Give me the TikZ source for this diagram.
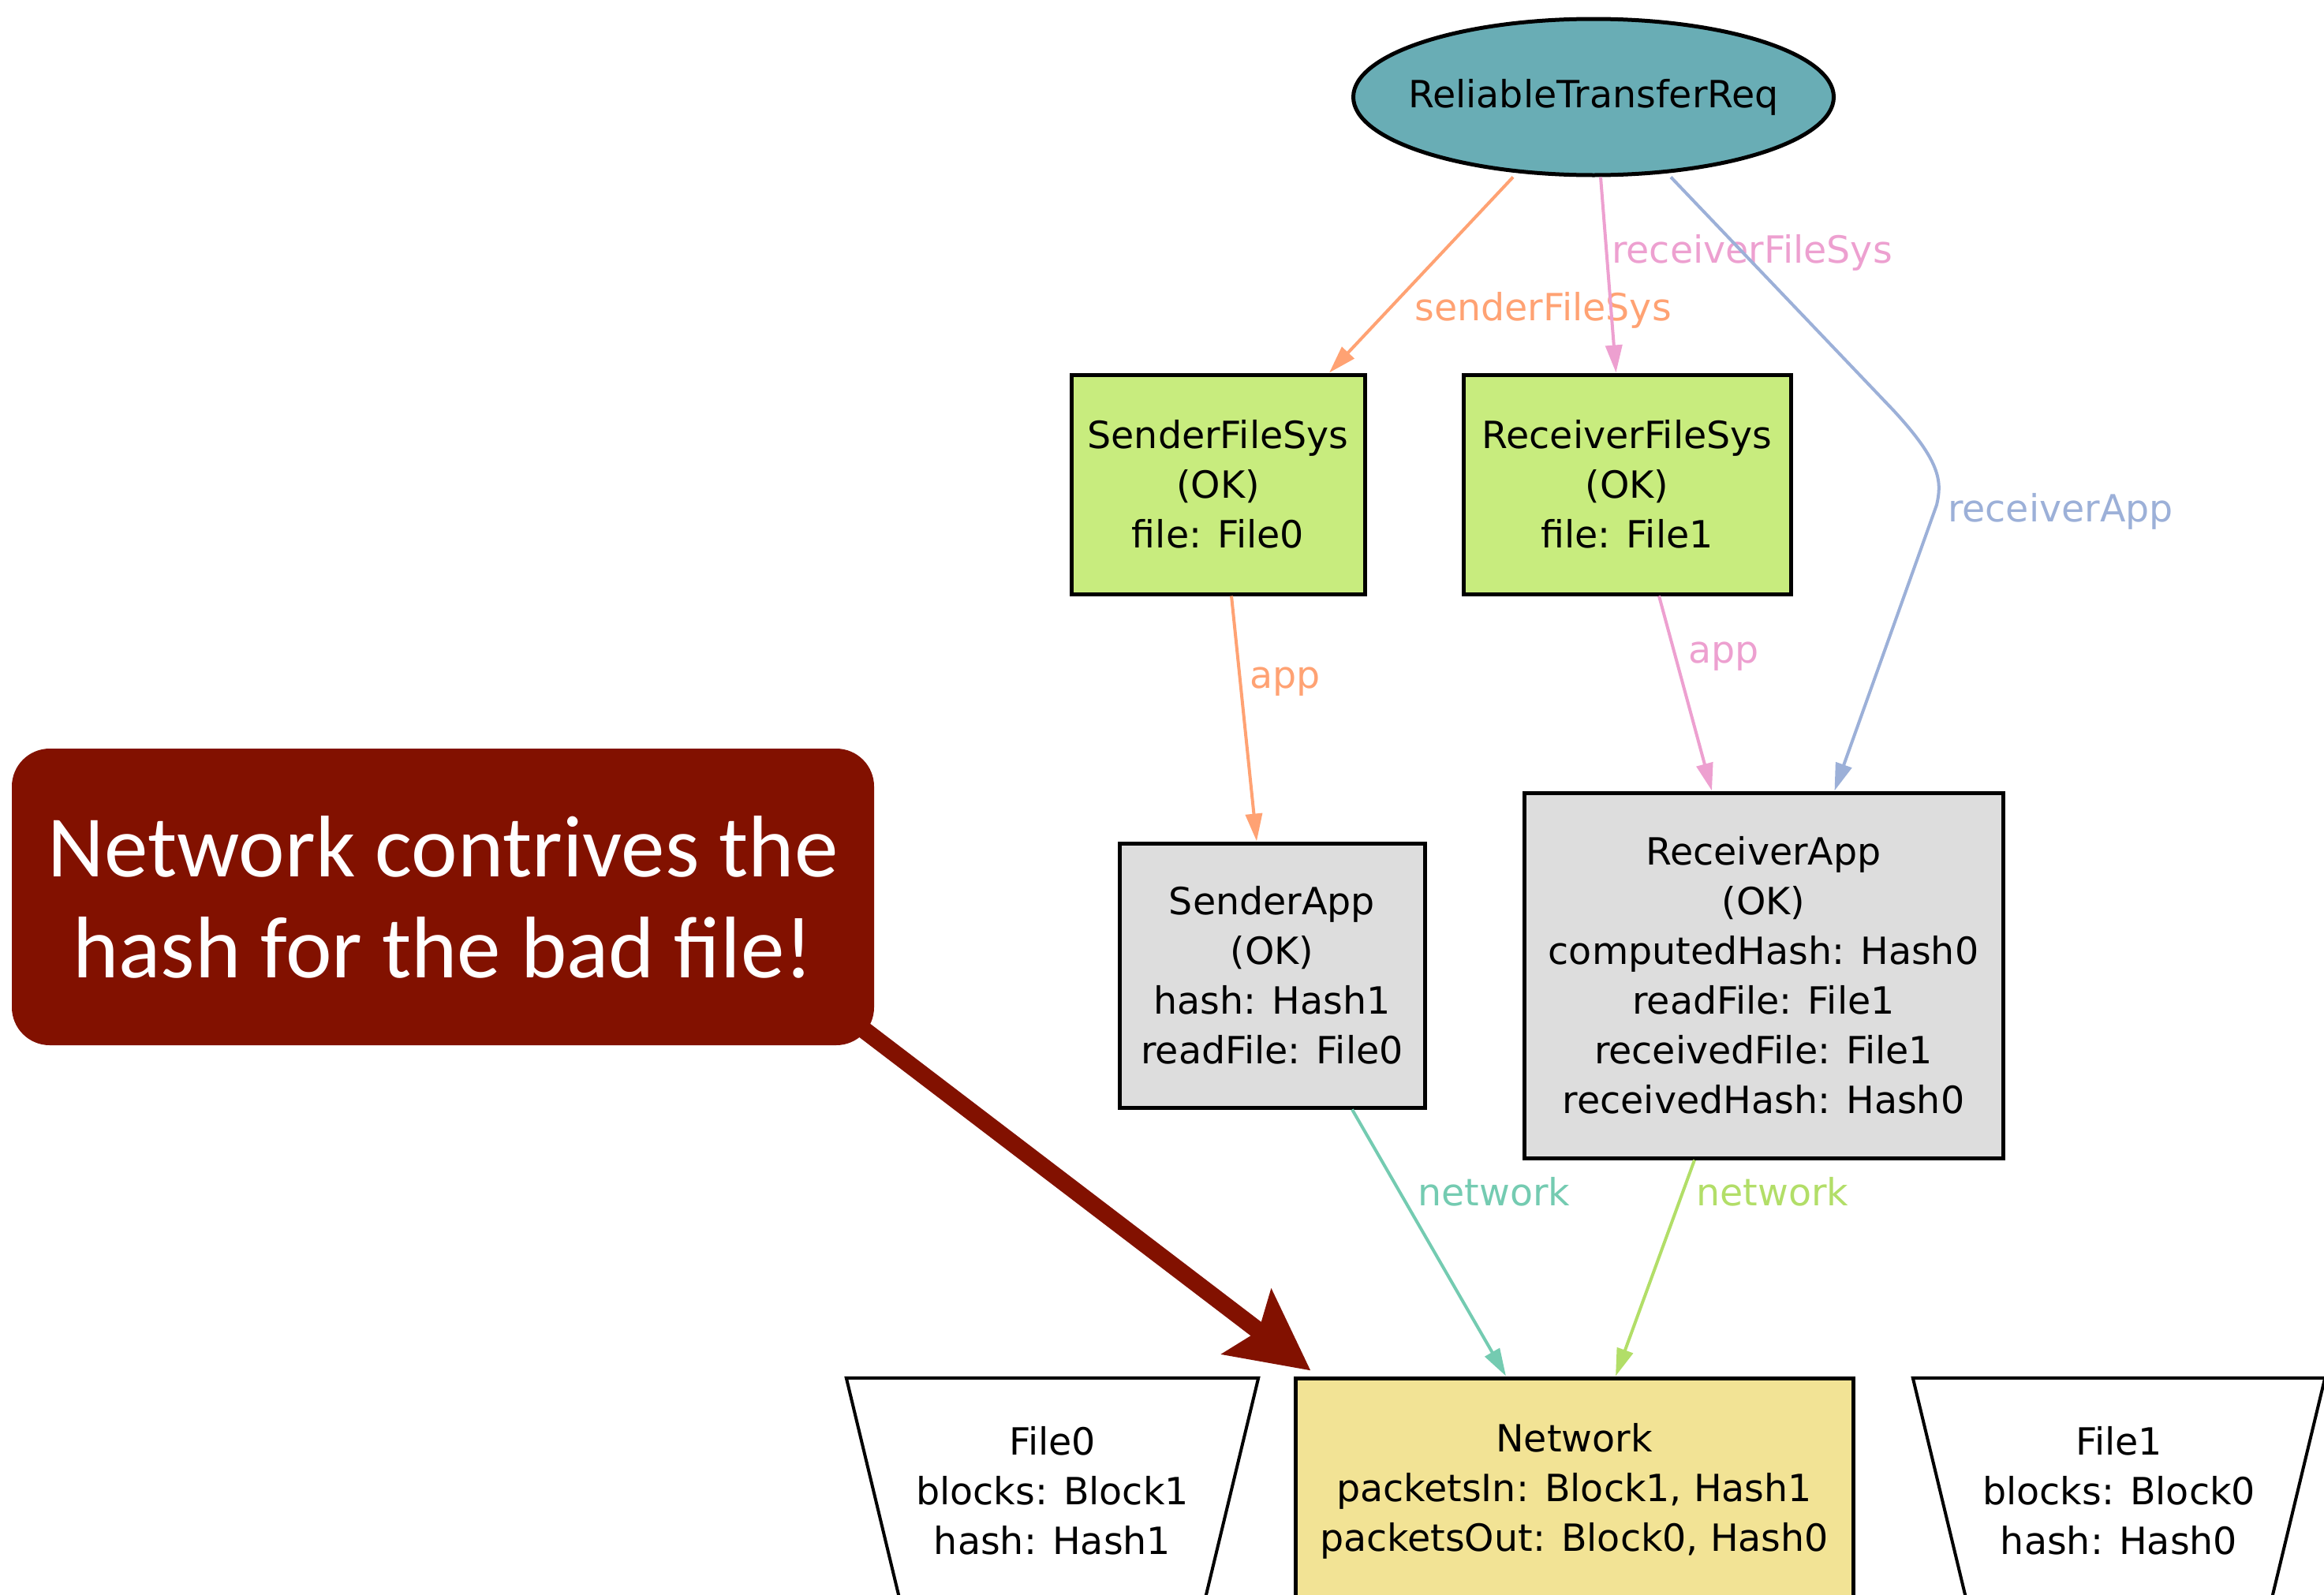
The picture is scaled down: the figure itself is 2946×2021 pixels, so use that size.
\documentclass[tikz,border=0pt]{standalone}
\usepackage{fontspec}
\usetikzlibrary{arrows.meta,shapes.geometric,calc}
\newfontfamily\graphfont{DejaVu Sans}
\newfontfamily\notefont{Carlito}

\definecolor{reqfill}{HTML}{69ADB5}
\definecolor{fsfill}{HTML}{C8EC7E}
\definecolor{appfill}{HTML}{DDDDDD}
\definecolor{netfill}{HTML}{F2E395}
\definecolor{notered}{HTML}{821100}
\definecolor{orangeE}{HTML}{FFA273}
\definecolor{pinkE}{HTML}{EDA0D0}
\definecolor{blueE}{HTML}{9CB0D8}
\definecolor{tealE}{HTML}{74CBB1}
\definecolor{limeE}{HTML}{B2DE68}

\begin{document}
\begin{tikzpicture}[x=1pt,y=-1pt,
  every node/.style={font=\graphfont\fontsize{47.5pt}{63pt}\selectfont},
  box/.style={draw=black,line width=5pt,align=center,inner sep=0pt},
  filebox/.style={align=center,inner sep=0pt,minimum width=522pt,minimum height=286pt},
  fileedge/.style={draw=black,line width=4pt,line join=miter},
  edge/.style={line width=4pt,-{Triangle[length=35pt,width=21pt]}},
  lbl/.style={inner sep=0pt},
  notebox/.style={fill=notered,rounded corners=48pt,minimum width=1093pt,
    minimum height=376pt,align=center,text=white,inner sep=0pt,
    font=\notefont\fontsize{111pt}{128pt}\selectfont},
  pointer/.style={line width=22pt,notered,
    -{Stealth[length=101pt,width=101pt,inset=18pt]}},
]
\useasboundingbox (0,0) rectangle (2946,2021);
\clip (0,0) rectangle (2946,2021);

% graph nodes
\node[ellipse,draw=black,line width=5pt,fill=reqfill,inner sep=0pt,
      minimum width=609pt,minimum height=198pt] (req) at (2020,123)
  {\makebox[0pt]{ReliableTransferReq}};
\node[box,fill=fsfill,minimum width=372pt,minimum height=278pt] (sfs) at (1544,614)
  {SenderFileSys\\(OK)\\file: File0};
\node[box,fill=fsfill,minimum width=415pt,minimum height=278pt] (rfs) at (2062.5,614)
  {ReceiverFileSys\\(OK)\\file: File1};
\node[box,fill=appfill,minimum width=387pt,minimum height=335pt] (sapp) at (1612.5,1236.5)
  {SenderApp\\(OK)\\hash: Hash1\\readFile: File0};
\node[box,fill=appfill,minimum width=607pt,minimum height=463pt] (rapp) at (2235.5,1236.5)
  {ReceiverApp\\(OK)\\computedHash: Hash0\\readFile: File1\\receivedFile: File1\\receivedHash: Hash0};
\node[box,fill=netfill,minimum width=707pt,minimum height=286pt] (net) at (1995.5,1890)
  {Network\\packetsIn: Block1, Hash1\\packetsOut: Block0, Hash0};

% file atoms: inverted trapezia
\node[filebox] (file0) at (1334,1890) {File0\\blocks: Block1\\hash: Hash1};
\node[filebox] (file1) at (2686,1890) {File1\\blocks: Block0\\hash: Hash0};
\foreach \f in {file0,file1}{
  \draw[fileedge] (\f.north west) -- (\f.north east)
    -- ($(\f.south east)+(-69,0)$) -- ($(\f.south west)+(69,0)$) -- cycle;
}

% edge labels
\node[lbl,text=orangeE] (lsfs) at (1956,393) {senderFileSys};
\node[lbl,text=pinkE] (lrfs) at (2221,320) {receiverFileSys};
\node[lbl,text=blueE] (lrapp) at (2612,648) {receiverApp};
\node[lbl,text=orangeE] (lapp1) at (1629,864) {app};
\node[lbl,text=pinkE] (lapp2) at (2185,832) {app};
\node[lbl,text=tealE] (lnet1) at (1894,1511) {network};
\node[lbl,text=limeE] (lnet2) at (2247,1511) {network};

% edges
\coordinate (bendA) at (2400,520);
\coordinate (bendB) at (2455,640);
\draw[edge,orangeE] ([xshift=-102pt]req.south) -- ([xshift=141pt]sfs.north);
\draw[edge,pinkE] ([xshift=9pt]req.south) -- ([xshift=-14pt]rfs.north);
\draw[edge,blueE] ([xshift=98pt]req.south) -- (bendA)
  .. controls (2460,585) and (2462,610) .. (bendB) -- ([xshift=90pt]rapp.north);
\draw[edge,orangeE] ([xshift=17pt]sfs.south) -- ([xshift=-19.5pt]sapp.north);
\draw[edge,pinkE] ([xshift=40.5pt]rfs.south) -- ([xshift=-65.5pt]rapp.north);
\draw[edge,tealE] ([xshift=101.5pt]sapp.south) -- ([xshift=-86.5pt]net.north);
\draw[edge,limeE] ([xshift=-87.5pt]rapp.south) -- ([xshift=52.5pt]net.north);

% call-out and its pointer
\coordinate (noteanchor) at (561.5,1137);
\draw[pointer] ($(noteanchor)+(518.5,157)$) -- ([xshift=22pt,yshift=7pt]net.north west);
\node[notebox] (note) at (noteanchor) {Network contrives the\\hash for the bad file!};
\end{tikzpicture}
\end{document}
